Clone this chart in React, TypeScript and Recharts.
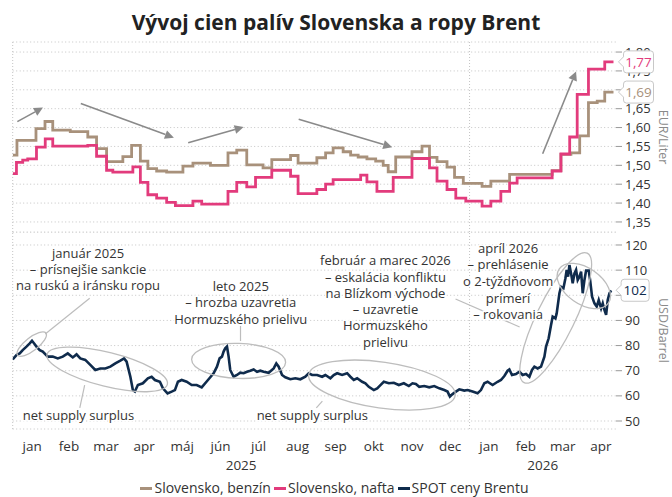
import React from 'react';
import { LineChart, Line, XAxis, YAxis, CartesianGrid, ReferenceLine, ReferenceDot, Legend } from 'recharts';

const FONT = '"Open Sans", Roboto, sans-serif';

// ---- data (x = days since 1 Jan 2025) ----
const benzinDays = [0, 3.4, 18.6, 25.8, 32, 46, 60, 67, 75, 88, 95, 102, 108, 115, 123, 136, 144, 158, 172, 179, 187, 200, 207, 222, 228, 243, 250, 256, 264, 270, 276, 283, 290, 296, 300, 306, 319, 327, 333, 339, 347, 353, 360, 375, 382, 397, 431, 438, 446, 453, 460, 467, 473, 480];
const benzinValues = [1.527, 1.566, 1.597, 1.616, 1.593, 1.589, 1.575, 1.544, 1.510, 1.523, 1.553, 1.511, 1.491, 1.485, 1.482, 1.498, 1.506, 1.500, 1.533, 1.540, 1.501, 1.493, 1.515, 1.526, 1.506, 1.520, 1.533, 1.546, 1.536, 1.527, 1.522, 1.517, 1.511, 1.500, 1.483, 1.522, 1.536, 1.551, 1.521, 1.510, 1.495, 1.468, 1.452, 1.444, 1.458, 1.476, 1.486, 1.529, 1.533, 1.578, 1.666, 1.670, 1.694, 1.694];

const naftaDays = [0, 3, 8, 12, 19, 26, 32, 60, 67, 75, 80, 96, 102, 108, 115, 123, 130, 144, 151, 172, 179, 187, 194, 207, 222, 228, 243, 250, 256, 278, 283, 291, 304, 319, 333, 339, 347, 354, 362, 375, 382, 390, 397, 403, 431, 438, 445, 451, 460, 473, 480];
const naftaValues = [1.478, 1.508, 1.514, 1.517, 1.548, 1.570, 1.551, 1.553, 1.524, 1.487, 1.482, 1.496, 1.455, 1.422, 1.413, 1.402, 1.393, 1.405, 1.397, 1.431, 1.455, 1.443, 1.468, 1.487, 1.471, 1.425, 1.436, 1.450, 1.462, 1.474, 1.456, 1.431, 1.468, 1.518, 1.493, 1.458, 1.436, 1.413, 1.405, 1.392, 1.405, 1.431, 1.453, 1.467, 1.485, 1.530, 1.575, 1.688, 1.755, 1.774, 1.774];

const brentDays = [0, 3, 5.6, 8, 11, 13.6, 15.4, 17, 19, 21.6, 24, 28, 32, 36, 40, 44, 48, 51, 54, 58, 62, 66, 70, 74, 78, 82, 86, 89, 91, 94, 96, 97.6, 100, 104, 108, 111, 113.6, 117.6, 120, 123.7, 127, 129.6, 132, 135, 139, 143, 147, 151, 156, 160.5, 163.2, 165.3, 167.2, 168.5, 169.8, 171.2, 172.5, 173.8, 176.5, 179.2, 181.8, 184.5, 187.2, 189.8, 192.5, 195.2, 197.8, 200.5, 204.5, 208.5, 210.6, 212.5, 215.2, 217.8, 221.8, 225.8, 229.8, 233.8, 236.5, 239.2, 243.2, 247.2, 249.8, 253.8, 256.5, 259.2, 263.2, 267.2, 269.8, 272.5, 275.2, 279.2, 281.8, 284.5, 288.5, 291.2, 293.8, 296.5, 300.5, 304.5, 308.5, 312.5, 316.5, 319.4, 322.1, 324.8, 328.8, 332.8, 336.8, 340.8, 344.8, 347.4, 349.3, 351.4, 354.1, 356.8, 360.8, 363.4, 367.4, 371.4, 374.1, 376.8, 379.4, 383.4, 387.4, 390.1, 392.8, 395.4, 396.8, 398.9, 402.1, 404.8, 407.4, 410.1, 412.8, 414.9, 416.8, 419.4, 422.1, 424.8, 426.1, 428.2, 430.1, 431.4, 433.6, 434.6, 436.8, 438.1, 440, 441.6, 442.6, 443.7, 444.8, 446.1, 447.4, 448.8, 450.1, 451.4, 452.8, 454.1, 455.4, 456.8, 458.1, 460.2, 461.3, 462.9, 464.8, 466.6, 468.2, 470.1, 471.4, 472.8, 474.1, 475.4, 476.8, 478.1];
const brentValues = [74.5, 76.2, 76.9, 78.2, 79.6, 80.9, 81.9, 80.9, 79.6, 78.2, 77.6, 75.6, 75.6, 74.9, 75.6, 76.9, 75.3, 76.5, 74.9, 74.3, 72.3, 70.3, 70.9, 70.9, 71.6, 72.9, 74.0, 74.9, 73.6, 67.6, 62.3, 61.7, 64.3, 65.0, 67.0, 67.6, 66.3, 65.6, 63.0, 61.0, 61.7, 62.3, 65.6, 66.3, 65.6, 64.3, 64.3, 63.4, 66.3, 69.0, 71.6, 74.9, 75.6, 77.6, 78.9, 79.6, 75.6, 70.3, 67.6, 68.3, 69.2, 69.0, 69.6, 70.0, 70.5, 69.6, 70.0, 69.6, 69.2, 70.9, 72.9, 71.6, 68.3, 67.4, 66.6, 67.0, 66.6, 67.6, 69.0, 68.3, 68.3, 67.6, 68.3, 67.0, 68.3, 69.0, 68.3, 69.0, 67.6, 66.3, 67.0, 65.6, 65.0, 63.6, 62.3, 63.0, 64.3, 65.6, 65.0, 65.2, 64.3, 65.0, 63.9, 65.0, 64.7, 63.6, 63.9, 63.4, 63.9, 63.0, 62.3, 61.7, 59.7, 60.7, 61.7, 62.6, 62.1, 62.3, 61.7, 61.0, 62.3, 65.0, 65.6, 64.3, 65.6, 66.3, 67.9, 70.0, 70.5, 68.3, 68.7, 69.6, 68.3, 68.7, 67.6, 70.3, 71.6, 70.9, 71.6, 75.6, 79.6, 82.9, 88.2, 91.5, 90.8, 92.8, 100.8, 103.4, 102.8, 106.8, 110.1, 107.4, 112.0, 108.7, 104.8, 108.7, 110.1, 106.1, 107.4, 109.4, 100.8, 106.1, 109.8, 109.8, 106.1, 99.4, 96.8, 95.5, 98.1, 94.8, 96.8, 94.1, 92.2, 98.1, 100.8, 102.0];

const monthStarts = [0, 31, 59, 90, 120, 151, 181, 212, 243, 273, 304, 334, 365, 396, 424, 455];
const monthMids = [15.5, 45, 74.5, 105, 135.5, 166, 196.5, 227.5, 258, 288.5, 319, 349.5, 380.5, 410, 439.5, 470];
const monthLabels = ['jan', 'feb', 'mar', 'apr', 'máj', 'jún', 'júl', 'aug', 'sep', 'okt', 'nov', 'dec', 'jan', 'feb', 'mar', 'apr'];
const yearMids = [182.5, 423.5];
const yearLabels = ['2025', '2026'];
const fuelTicks = [1.35, 1.4, 1.45, 1.5, 1.55, 1.6, 1.65, 1.7, 1.75, 1.8];
const brentTicks = [50, 60, 70, 80, 90, 100, 110, 120];
const seriesNames = ['Slovensko, benzín', 'Slovensko, nafta', 'SPOT ceny Brentu'];
const seriesColors = ['#a8917b', '#e23b7c', '#0f2b4c'];

const benzinData = benzinDays.map((d, i) => ({ d, v: benzinValues[i] }));
const naftaData = naftaDays.map((d, i) => ({ d, v: naftaValues[i] }));
const brentData = brentDays.map((d, i) => ({ d, v: brentValues[i] }));

const X_DOMAIN: [number, number] = [0, 482];
const FUEL_DOMAIN: [number, number] = [1.3234, 1.8266];
const BRENT_DOMAIN: [number, number] = [46.82, 125.17];
const GRID = '#c4c4c4';
const ANN = '#bdbdbd';

// ---- shapes ----
const Arrow = (p: any) => {
  const { x1, y1, x2, y2 } = p;
  const a = Math.atan2(y2 - y1, x2 - x1);
  const L = 9, W = 4.5;
  const bx = x2 - L * Math.cos(a), by = y2 - L * Math.sin(a);
  const px = -Math.sin(a) * W, py = Math.cos(a) * W;
  return (
    <g>
      <line x1={x1} y1={y1} x2={bx} y2={by} stroke="#8a8a8a" strokeWidth={1.6} />
      <polygon points={`${x2},${y2} ${bx + px},${by + py} ${bx - px},${by - py}`} fill="#8a8a8a" />
    </g>
  );
};

const Seg = (p: any) => (
  <line x1={p.x1} y1={p.y1} x2={p.x2} y2={p.y2} stroke={ANN} strokeWidth={1.2} />
);

const ell = (rx: number, ry: number, rot: number) => (p: any) => (
  <ellipse cx={p.cx} cy={p.cy} rx={rx} ry={ry} transform={`rotate(${rot} ${p.cx} ${p.cy})`} fill="none" stroke={ANN} strokeWidth={1.3} />
);

const txt = (lines: string[], gap: number) => (p: any) => (
  <g>
    {lines.map((l, i) => (
      <text key={i} x={p.cx} y={p.cy + i * gap} dy="0.35em" textAnchor="middle" fontSize={13} fontFamily={FONT} fill="#333" stroke="#fff" strokeWidth={3} paintOrder="stroke">{l}</text>
    ))}
  </g>
);

const callout = (color: string, label: string, w: number) => (p: any) => {
  const { cx, cy } = p;
  const tip = cx + 5, bx = cx + 10, h = 22, t = cy - h / 2, b = cy + h / 2, r = 3;
  const d = `M${tip},${cy} L${bx},${cy - 5} L${bx},${t + r} Q${bx},${t} ${bx + r},${t} L${bx + w - r},${t} Q${bx + w},${t} ${bx + w},${t + r} L${bx + w},${b - r} Q${bx + w},${b} ${bx + w - r},${b} L${bx + r},${b} Q${bx},${b} ${bx},${b - r} L${bx},${cy + 5} Z`;
  return (
    <g>
      <path d={d} fill="#fff" stroke="#c8c8c8" strokeWidth={1} />
      <text x={bx + w / 2} y={cy} dy="0.35em" textAnchor="middle" fontSize={13.5} fontFamily={FONT} fill={color}>{label}</text>
    </g>
  );
};

const unitLabel = (value: string) => (p: any) => {
  const vb = p.viewBox;
  const x = vb.x + 43, y = vb.y + vb.height / 2;
  return (
    <text x={x} y={y} textAnchor="middle" fontSize={12.5} fontFamily={FONT} fill="#8a8a8a" transform={`rotate(90 ${x} ${y})`}>{value}</text>
  );
};

const MonthTick = (p: any) => {
  const i = monthMids.indexOf(p.payload.value);
  return <text x={p.x} y={p.y} dy={21.5} textAnchor="middle" fontSize={13.5} fontFamily={FONT} fill="#333">{monthLabels[i]}</text>;
};
const YearTick = (p: any) => {
  const i = yearMids.indexOf(p.payload.value);
  return <text x={p.x} y={p.y} dy={21} textAnchor="middle" fontSize={13.5} fontFamily={FONT} fill="#333">{yearLabels[i]}</text>;
};

const LegendContent = () => (
  <div style={{ height: 28, display: 'flex', justifyContent: 'center', alignItems: 'flex-end', fontSize: 14, fontFamily: FONT, color: '#333', lineHeight: '16px', paddingBottom: 1, boxSizing: 'border-box' }}>
    {seriesNames.map((n, i) => (
      <span key={n} style={{ display: 'inline-flex', alignItems: 'center', marginRight: 3 }}>
        <span style={{ display: 'inline-block', width: 12, height: 3, background: seriesColors[i], marginRight: 2 }} />
        {n}
      </span>
    ))}
  </div>
);

const fmtFuel = (v: number) => v.toFixed(2).replace('.', ',');
const tickStyle = { fontSize: 13, fontFamily: FONT, fill: '#333' };
const TOP_MARGIN = { top: 42, right: 6, bottom: 8, left: 12.7 };

export default function App() {
  return (
    <div style={{ position: 'absolute', left: 0, top: 0, width: 672, height: 497, background: '#fff', fontFamily: FONT }}>
      <div style={{ position: 'absolute', left: 0, top: 7, width: 672, textAlign: 'center', fontSize: 21, fontWeight: 700, lineHeight: '30px', color: '#222' }}>
        Vývoj cien palív Slovenska a ropy Brent
      </div>

      {/* top panel: fuel prices */}
      <div style={{ position: 'absolute', left: 0, top: 0 }}>
        <LineChart width={672} height={240} margin={TOP_MARGIN}>
          <CartesianGrid vertical={false} stroke={GRID} strokeDasharray="1 2.5" />
          <XAxis dataKey="d" type="number" domain={X_DOMAIN} allowDataOverflow height={0} tick={false} tickLine={false} axisLine={{ stroke: '#bbb' }} />
          <YAxis orientation="right" width={50} domain={FUEL_DOMAIN} allowDataOverflow ticks={fuelTicks} interval={0} tickFormatter={fmtFuel} tickSize={6} tickMargin={3} axisLine={false} tickLine={{ stroke: '#999' }} tick={tickStyle} label={unitLabel('EUR/Liter')} />
          <ReferenceLine x={0} stroke={GRID} strokeDasharray="1 2" />
          <ReferenceLine x={365} stroke={GRID} strokeDasharray="1 2" />
          <ReferenceLine segment={[{ x: 3.7, y: 1.6157 }, { x: 24.2, y: 1.653 }]} shape={Arrow} ifOverflow="visible" />
          <ReferenceLine segment={[{ x: 54.4, y: 1.6636 }, { x: 128.8, y: 1.5731 }]} shape={Arrow} ifOverflow="visible" />
          <ReferenceLine segment={[{ x: 140.2, y: 1.5598 }, { x: 184.5, y: 1.6013 }]} shape={Arrow} ifOverflow="visible" />
          <ReferenceLine segment={[{ x: 228.5, y: 1.6218 }, { x: 303.2, y: 1.5481 }]} shape={Arrow} ifOverflow="visible" />
          <ReferenceLine segment={[{ x: 423.4, y: 1.5306 }, { x: 450.1, y: 1.7487 }]} shape={Arrow} ifOverflow="visible" />
          <Line data={benzinData} dataKey="v" name={seriesNames[0]} type="stepAfter" stroke={seriesColors[0]} strokeWidth={2.8} dot={false} isAnimationActive={false} />
          <Line data={naftaData} dataKey="v" name={seriesNames[1]} type="stepAfter" stroke={seriesColors[1]} strokeWidth={2.8} dot={false} isAnimationActive={false} />
        </LineChart>
      </div>

      {/* bottom panel: Brent */}
      <div style={{ position: 'absolute', left: 0, top: 232 }}>
        <LineChart width={672} height={265} margin={{ top: 0, right: 6, bottom: 0, left: 12.7 }}>
          <CartesianGrid xAxisId="m" yAxisId="b" vertical={false} stroke={GRID} strokeDasharray="1 2.5" />
          <XAxis xAxisId="m" dataKey="d" type="number" domain={X_DOMAIN} allowDataOverflow height={0} ticks={monthStarts} interval={0} tick={false} tickSize={4} axisLine={{ stroke: '#bbb' }} tickLine={{ stroke: '#bbb' }} />
          <XAxis xAxisId="l" dataKey="d" type="number" domain={X_DOMAIN} allowDataOverflow height={20} ticks={monthMids} interval={0} tickSize={0} tickMargin={0} axisLine={false} tickLine={false} tick={<MonthTick />} />
          <XAxis xAxisId="y" dataKey="d" type="number" domain={X_DOMAIN} allowDataOverflow height={20} ticks={yearMids} interval={0} tickSize={0} tickMargin={0} axisLine={false} tickLine={false} tick={<YearTick />} />
          <YAxis yAxisId="b" orientation="right" width={50} domain={BRENT_DOMAIN} allowDataOverflow ticks={brentTicks} interval={0} tickSize={6} tickMargin={3} axisLine={false} tickLine={{ stroke: '#999' }} tick={tickStyle} label={unitLabel('USD/Barrel')} />
          <ReferenceLine xAxisId="m" yAxisId="b" x={0} stroke={GRID} strokeDasharray="1 2" />
          <ReferenceLine xAxisId="m" yAxisId="b" x={365} stroke={GRID} strokeDasharray="1 2" />

          <ReferenceDot xAxisId="m" yAxisId="b" x={15.2} y={80.6} ifOverflow="visible" shape={ell(18, 6.5, -38)} />
          <ReferenceDot xAxisId="m" yAxisId="b" x={75.5} y={70.5} ifOverflow="visible" shape={ell(62, 17, 14)} />
          <ReferenceDot xAxisId="m" yAxisId="b" x={180.5} y={73.9} ifOverflow="visible" shape={ell(47, 17.5, 2)} />
          <ReferenceDot xAxisId="m" yAxisId="b" x={295} y={64.3} ifOverflow="visible" shape={ell(74, 23, 8)} />
          <ReferenceDot xAxisId="m" yAxisId="b" x={433.8} y={91} ifOverflow="visible" shape={ell(72, 19, -64)} />
          <ReferenceDot xAxisId="m" yAxisId="b" x={456.3} y={103.7} ifOverflow="visible" shape={ell(30, 18, 35)} />

          <ReferenceLine xAxisId="m" yAxisId="b" segment={[{ x: 26, y: 84.6 }, { x: 61.5, y: 98.8 }]} shape={Seg} ifOverflow="visible" />
          <ReferenceLine xAxisId="m" yAxisId="b" segment={[{ x: 57.5, y: 64.3 }, { x: 53.6, y: 55.2 }]} shape={Seg} ifOverflow="visible" />
          <ReferenceLine xAxisId="m" yAxisId="b" segment={[{ x: 182, y: 81.8 }, { x: 182, y: 87.8 }]} shape={Seg} ifOverflow="visible" />
          <ReferenceLine xAxisId="m" yAxisId="b" segment={[{ x: 247.4, y: 57.9 }, { x: 242.6, y: 55.2 }]} shape={Seg} ifOverflow="visible" />
          <ReferenceLine xAxisId="m" yAxisId="b" segment={[{ x: 353.8, y: 98.5 }, { x: 405, y: 87.4 }]} shape={Seg} ifOverflow="visible" />

          <ReferenceDot xAxisId="m" yAxisId="b" x={60.2} y={116.8} ifOverflow="visible" shape={txt(['január 2025', '– prísnejšie sankcie', 'na ruskú a iránsku ropu'], 16.3)} />
          <ReferenceDot xAxisId="m" yAxisId="b" x={182.2} y={103.5} ifOverflow="visible" shape={txt(['leto 2025', '– hrozba uzavretia', 'Hormuzského prielivu'], 16.3)} />
          <ReferenceDot xAxisId="m" yAxisId="b" x={297.8} y={113.75} ifOverflow="visible" shape={txt(['február a marec 2026', '– eskalácia konfliktu', 'na Blízkom východe', '– uzavretie', 'Hormuzského', 'prielivu'], 16.3)} />
          <ReferenceDot xAxisId="m" yAxisId="b" x={395.8} y={118.7} ifOverflow="visible" shape={txt(['apríl 2026', '– prehlásenie', 'o 2-týždňovom', 'prímerí', '– rokovania'], 16.6)} />
          <ReferenceDot xAxisId="m" yAxisId="b" x={52.5} y={52.4} ifOverflow="visible" shape={txt(['net supply surplus'], 16)} />
          <ReferenceDot xAxisId="m" yAxisId="b" x={239.4} y={52.4} ifOverflow="visible" shape={txt(['net supply surplus'], 16)} />

          <Line xAxisId="m" yAxisId="b" data={brentData} dataKey="v" name={seriesNames[2]} type="linear" stroke={seriesColors[2]} strokeWidth={2.6} dot={false} isAnimationActive={false} />
          <Legend height={28} content={<LegendContent />} wrapperStyle={{ left: 0, width: 672, height: 28, bottom: 0 }} />
        </LineChart>
      </div>

      {/* overlays: last-value callouts drawn above the axis labels */}
      <div style={{ position: 'absolute', left: 0, top: 0, pointerEvents: 'none' }}>
        <LineChart width={672} height={240} margin={TOP_MARGIN}>
          <XAxis dataKey="d" type="number" domain={X_DOMAIN} allowDataOverflow height={0} tick={false} tickLine={false} axisLine={false} />
          <YAxis orientation="right" width={50} domain={FUEL_DOMAIN} allowDataOverflow tick={false} tickLine={false} axisLine={false} />
          <ReferenceDot x={naftaDays[naftaDays.length - 1]} y={naftaValues[naftaValues.length - 1]} ifOverflow="visible" shape={callout(seriesColors[1], '1,77', 30)} />
          <ReferenceDot x={benzinDays[benzinDays.length - 1]} y={benzinValues[benzinValues.length - 1]} ifOverflow="visible" shape={callout(seriesColors[0], '1,69', 30)} />
        </LineChart>
      </div>
      <div style={{ position: 'absolute', left: 0, top: 232, pointerEvents: 'none' }}>
        <LineChart width={672} height={265} margin={{ top: 0, right: 6, bottom: 68, left: 12.7 }}>
          <XAxis dataKey="d" type="number" domain={X_DOMAIN} allowDataOverflow height={0} tick={false} tickLine={false} axisLine={false} />
          <YAxis orientation="right" width={50} domain={BRENT_DOMAIN} allowDataOverflow tick={false} tickLine={false} axisLine={false} />
          <ReferenceDot x={brentDays[brentDays.length - 1]} y={brentValues[brentValues.length - 1]} ifOverflow="visible" shape={callout(seriesColors[2], '102', 28)} />
        </LineChart>
      </div>
    </div>
  );
}
